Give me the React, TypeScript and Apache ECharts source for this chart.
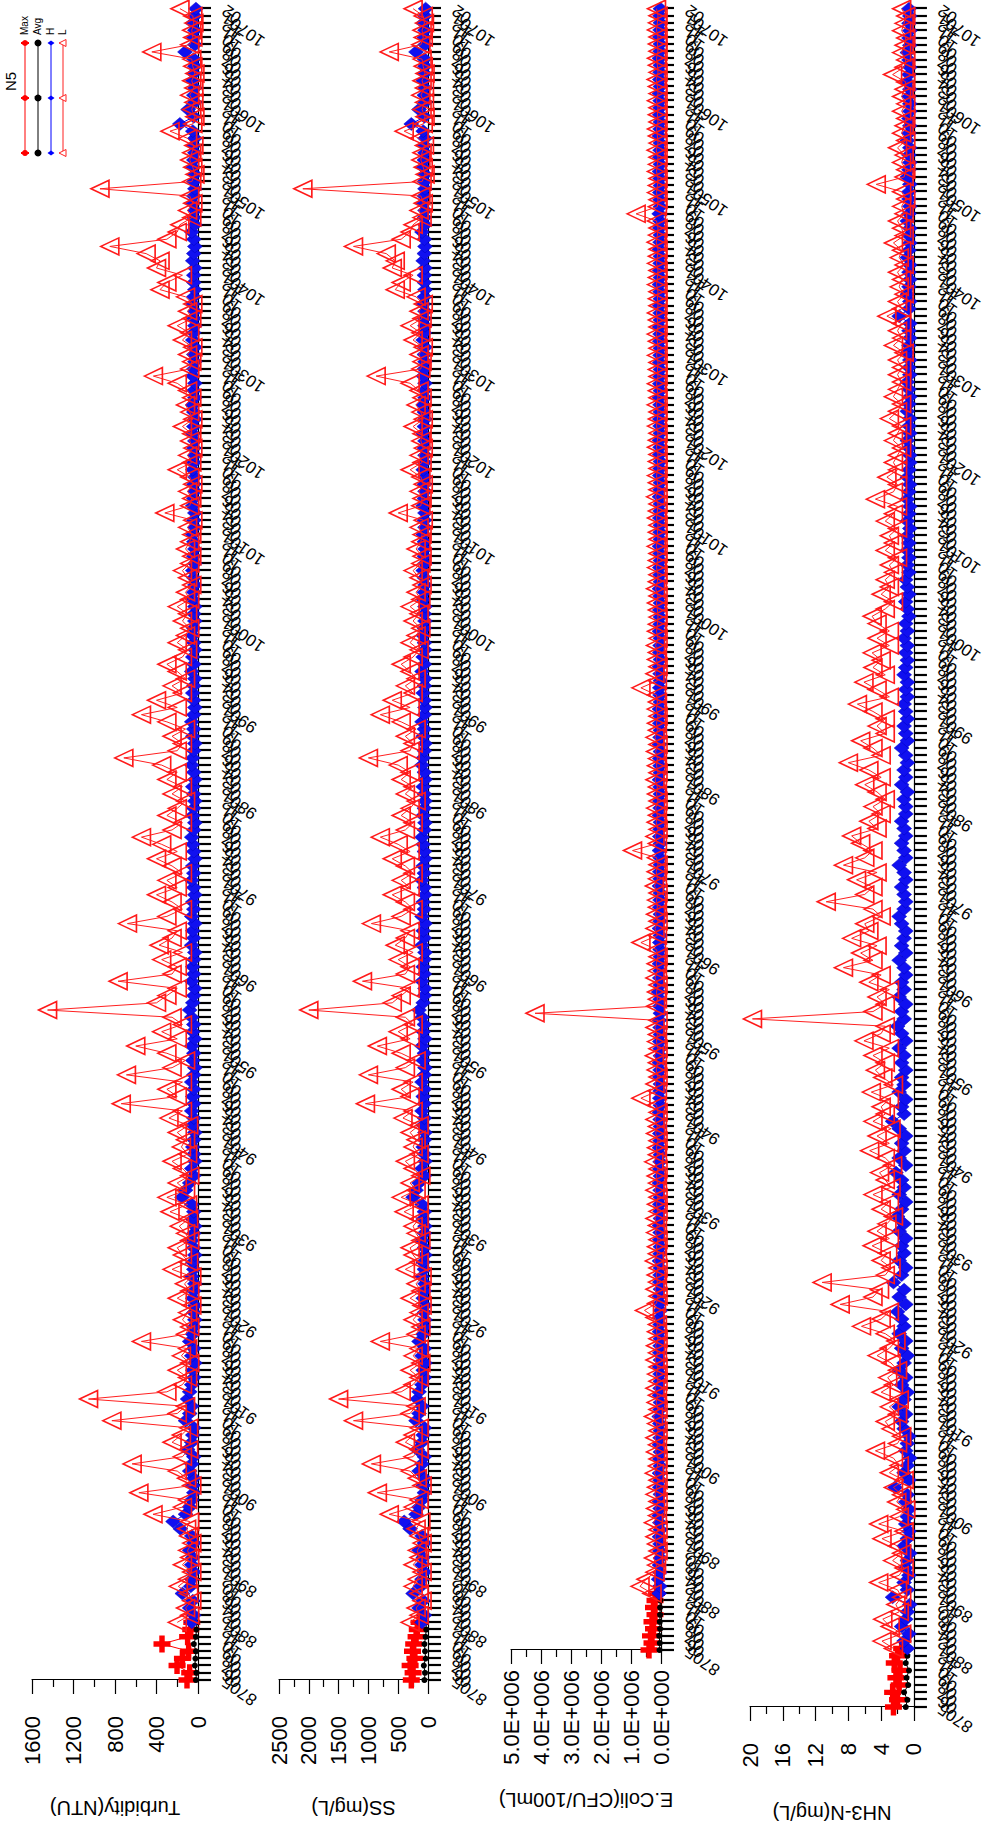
import React, { useEffect, useRef } from "react";
import * as echarts from "echarts";

const W = 1843;
const H = 986;

// sampling months per ROC year (category axis)
const yearMonths: [number, number[]][] = [
  [87, [5, 6, 7, 8, 9, 10, 11, 12]],
  [88, [1, 2, 4, 6, 8, 10, 12]],
  [89, [1, 2, 3, 4, 5, 6, 7, 8, 9, 10, 11, 12]],
  [90, [1, 2, 3, 4, 5, 6, 7, 8, 9, 10, 11, 12]],
  [91, [1, 2, 3, 4, 5, 6, 7, 8, 9, 10, 11, 12]],
  [92, [1, 2, 3, 4, 5, 6, 7, 8, 9, 10, 11, 12]],
  [93, [1, 2, 3, 4, 5, 6, 7, 8, 9, 10, 11, 12]],
  [94, [1, 2, 3, 4, 5, 6, 7, 8, 9, 10, 11, 12]],
  [95, [1, 2, 3, 4, 5, 6, 7, 8, 9, 10, 11, 12]],
  [96, [1, 2, 3, 4, 5, 6, 7, 8, 9, 10, 11, 12]],
  [97, [1, 2, 3, 4, 5, 6, 7, 8, 9, 10, 11, 12]],
  [98, [1, 2, 3, 4, 5, 6, 7, 8, 9, 10, 11, 12]],
  [99, [1, 2, 3, 4, 5, 6, 7, 8, 9, 10, 11, 12]],
  [100, [1, 2, 3, 4, 5, 6, 7, 8, 9, 10, 11, 12]],
  [101, [1, 2, 3, 4, 5, 6, 7, 8, 9, 10, 11, 12]],
  [102, [1, 2, 3, 4, 5, 6, 7, 8, 9, 10, 11, 12]],
  [103, [1, 2, 3, 4, 5, 6, 7, 8, 9, 10, 11, 12]],
  [104, [1, 2, 3, 4, 5, 6, 7, 8, 9, 10, 11, 12]],
  [105, [1, 2, 3, 4, 5, 6, 7, 8, 9, 10, 11, 12]],
  [106, [1, 2, 3, 4, 5, 6, 7, 8, 9, 10, 11, 12]],
  [107, [1, 2]],
];

// ---- Turbidity (NTU) ----
const maxTurb = [106, 80, 202, 150, 90, 347, 100, 70, 60];
const avgTurb = [20, 15, 30, 25, 20, 40, 20, 15, 10];
const hTurb = [
  60, 40, 80, 50, 150, 70, 60,
  40, 60, 50, 80, 40, 60, 170, 240, 120, 80, 60, 40,
  50, 40, 80, 60, 40, 100, 60, 50, 40, 120, 80, 60,
  100, 80, 60, 40, 50, 30, 60, 40, 80, 50, 40, 30,
  40, 30, 50, 40, 30, 60, 40, 50, 30, 40, 60, 40,
  30, 50, 40, 60, 154, 120, 80, 40, 60, 30, 40, 50,
  40, 30, 50, 40, 60, 40, 50, 40, 60, 40, 30, 50,
  40, 60, 30, 50, 40, 60, 80, 50, 40, 30, 60, 40,
  50, 40, 30, 60, 40, 50, 30, 60, 40, 50, 30, 40,
  60, 40, 50, 30, 40, 50, 60, 40, 30, 50, 40, 30,
  40, 50, 30, 40, 60, 50, 40, 30, 50, 40, 60, 40,
  30, 40, 50, 40, 30, 60, 40, 50, 30, 40, 50, 40,
  30, 40, 30, 50, 40, 30, 40, 50, 30, 40, 30, 40,
  50, 30, 40, 30, 50, 40, 30, 40, 30, 50, 40, 30,
  40, 30, 50, 40, 30, 40, 50, 30, 40, 30, 50, 40,
  30, 40, 30, 50, 40, 30, 40, 30, 50, 40, 30, 40,
  40, 30, 50, 40, 30, 40, 60, 30, 40, 30, 50, 40,
  30, 40, 30, 50, 40, 30, 40, 30, 50, 175, 40, 95,
  30, 40, 30, 50, 40, 30, 40, 125, 30, 40, 30, 50,
  30, 20,
];
const lTurb = [
  200, 80, 120, 60, 90, 190, 100,
  60, 150, 80, 100, 60, 90, 110, 80, 434, 150, 100, 570,
  60, 110, 200, 635, 150, 90, 250, 160, 90, 830, 200, 120,
  1055, 300, 150, 100, 200, 80, 160, 100, 545, 120, 80, 150,
  100, 60, 200, 80, 130, 60, 250, 90, 150, 200, 80, 120,
  180, 90, 270, 100, 300, 120, 200, 80, 150, 250, 100, 160,
  120, 200, 90, 280, 150, 740, 200, 300, 150, 690, 250, 120,
  300, 600, 200, 350, 150, 250, 1450, 400, 300, 200, 770, 250,
  200, 350, 150, 375, 250, 200, 680, 300, 150, 250, 400, 200,
  300, 150, 250, 400, 200, 350, 545, 250, 150, 300, 200, 120,
  250, 150, 300, 200, 350, 715, 200, 150, 250, 120, 300, 545,
  200, 400, 150, 250, 120, 200, 300, 150, 100, 200, 120, 80,
  150, 100, 200, 80, 120, 60, 100, 150, 80, 60, 120, 80,
  60, 100, 50, 320, 80, 60, 100, 50, 80, 200, 60, 100,
  50, 80, 60, 150, 50, 80, 120, 60, 100, 200, 430, 80,
  60, 100, 50, 150, 80, 200, 60, 100, 50, 120, 366, 300,
  150, 400, 366, 500, 850, 300, 200, 175, 60, 100, 50, 80,
  945, 60, 30, 50, 80, 60, 40, 100, 270, 50, 30, 60,
  40, 80, 40, 60, 30, 50, 60, 445, 80, 50, 60, 40,
  50, 174,
];

// ---- SS (mg/L) ----
const maxSS = [280, 250, 300, 220, 260, 240, 200, 180, 150];
const avgSS = [60, 50, 70, 40, 50, 60, 40, 30, 30];
const hSS = [
  100, 60, 150, 80, 250, 120, 100,
  60, 100, 80, 150, 60, 100, 300, 400, 200, 150, 100, 60,
  80, 60, 150, 100, 60, 180, 100, 80, 60, 200, 150, 100,
  180, 150, 100, 60, 80, 50, 100, 60, 150, 80, 60, 50,
  60, 50, 80, 60, 50, 100, 60, 80, 50, 60, 100, 60,
  50, 80, 60, 100, 250, 200, 150, 60, 100, 50, 60, 80,
  60, 50, 80, 60, 100, 60, 80, 60, 100, 60, 50, 80,
  60, 100, 50, 80, 60, 100, 150, 80, 60, 50, 100, 60,
  80, 60, 50, 100, 60, 80, 50, 100, 60, 80, 50, 60,
  100, 60, 80, 50, 60, 80, 100, 60, 50, 80, 60, 50,
  60, 80, 50, 60, 100, 80, 60, 50, 80, 60, 100, 60,
  50, 60, 80, 60, 50, 100, 60, 80, 50, 60, 80, 60,
  50, 60, 50, 80, 60, 50, 60, 80, 50, 60, 50, 60,
  80, 50, 60, 50, 80, 60, 50, 60, 50, 80, 60, 50,
  60, 50, 80, 60, 50, 60, 80, 50, 60, 50, 80, 60,
  50, 60, 50, 80, 60, 50, 60, 50, 80, 60, 50, 60,
  60, 50, 80, 60, 50, 60, 100, 50, 60, 50, 80, 60,
  50, 60, 50, 80, 60, 50, 60, 50, 80, 280, 60, 150,
  50, 60, 50, 80, 60, 50, 60, 200, 50, 60, 50, 80,
  50, 40,
];
const lSS = [
  300, 150, 200, 100, 150, 250, 180,
  100, 250, 150, 180, 100, 150, 200, 120, 650, 250, 150, 850,
  100, 180, 300, 950, 250, 150, 380, 250, 150, 1250, 300, 200,
  1500, 450, 250, 150, 300, 120, 250, 150, 800, 200, 120, 250,
  150, 100, 300, 120, 200, 100, 380, 150, 250, 300, 120, 200,
  250, 150, 400, 150, 450, 200, 300, 120, 250, 380, 150, 250,
  200, 300, 150, 420, 250, 1050, 300, 450, 250, 1000, 380, 200,
  450, 850, 300, 500, 250, 380, 2000, 600, 450, 300, 1100, 380,
  300, 500, 250, 550, 380, 300, 950, 450, 250, 380, 600, 300,
  450, 250, 380, 600, 300, 500, 800, 380, 250, 450, 300, 200,
  380, 250, 450, 300, 500, 1000, 300, 250, 380, 200, 450, 800,
  300, 600, 250, 380, 200, 300, 450, 250, 150, 300, 200, 120,
  250, 150, 300, 120, 200, 100, 150, 250, 120, 100, 200, 120,
  100, 150, 80, 500, 120, 100, 150, 80, 120, 300, 100, 150,
  80, 120, 100, 250, 80, 120, 200, 100, 150, 300, 870, 120,
  100, 150, 80, 250, 120, 300, 100, 150, 80, 200, 550, 450,
  250, 600, 550, 700, 1250, 450, 300, 250, 100, 150, 80, 120,
  2100, 100, 50, 80, 120, 100, 60, 150, 400, 80, 50, 100,
  60, 120, 60, 100, 50, 80, 100, 650, 120, 80, 100, 60,
  80, 250,
];

// ---- E.Coli (CFU/100mL) ----
const maxEC = [4.0e5, 3.0e5, 3.5e5, 2.5e5, 3.0e5, 2.0e5, 2.5e5, 2.0e5, 1.5e5];
const avgEC = [5e4, 4e4, 6e4, 3e4, 4e4, 3e4, 3e4, 2e4, 2e4];
const hEC = [
  6e4, 4e4, 8e4, 3e4, 5e4, 2e4, 4e4,
  3e4, 5e4, 2e4, 4e4, 6e4, 3e4, 5e4, 2e4, 4e4, 3e4, 5e4, 2e4,
  4e4, 2e4, 5e4, 3e4, 2e4, 4e4, 6e4, 3e4, 2e4, 5e4, 3e4, 2e4,
  3e4, 5e4, 2e4, 4e4, 3e4, 2e4, 5e4, 3e4, 4e4, 2e4, 3e4, 5e4,
  2e4, 4e4, 3e4, 2e4, 5e4, 3e4, 2e4, 4e4, 3e4, 5e4, 2e4, 3e4,
  4e4, 2e4, 3e4, 5e4, 2e4, 4e4, 3e4, 2e4, 5e4, 3e4, 4e4, 2e4,
  3e4, 5e4, 2e4, 4e4, 3e4, 2e4, 4e4, 3e4, 5e4, 2e4, 3e4, 4e4,
  2e4, 3e4, 5e4, 2e4, 4e4, 3e4, 8e4, 2e4, 4e4, 3e4, 5e4, 2e4,
  3e4, 4e4, 2e4, 5e4, 3e4, 2e4, 4e4, 3e4, 2e4, 5e4, 3e4, 4e4,
  2e4, 3e4, 5e4, 2e4, 4e4, 3e4, 2e4, 5e4, 3e4, 4e4, 2e4, 3e4,
  5e4, 2e4, 3e4, 4e4, 2e4, 5e4, 3e4, 2e4, 4e4, 3e4, 5e4, 2e4,
  3e4, 4e4, 2e4, 3e4, 5e4, 2e4, 4e4, 3e4, 2e4, 5e4, 3e4, 2e4,
  4e4, 2e4, 3e4, 5e4, 2e4, 3e4, 4e4, 2e4, 3e4, 5e4, 2e4, 3e4,
  2e4, 4e4, 3e4, 2e4, 5e4, 3e4, 2e4, 4e4, 3e4, 2e4, 4e4, 3e4,
  5e4, 2e4, 3e4, 4e4, 2e4, 3e4, 5e4, 2e4, 4e4, 3e4, 2e4, 4e4,
  3e4, 2e4, 4e4, 3e4, 5e4, 2e4, 3e4, 4e4, 2e4, 3e4, 5e4, 2e4,
  4e4, 3e4, 2e4, 5e4, 3e4, 2e4, 4e4, 3e4, 6e4, 2e4, 3e4, 4e4,
  2e4, 3e4, 5e4, 2e4, 4e4, 3e4, 2e4, 5e4, 3e4, 2e4, 4e4, 3e4,
  3e4, 5e4, 2e4, 4e4, 3e4, 2e4, 5e4, 3e4, 2e4, 4e4, 3e4, 2e4,
  3e4, 2e4,
];
const lEC = [
  3e5, 7e5, 5e5, 2e5, 1.5e5, 2.5e5, 1e5,
  1.5e5, 2e5, 1e5, 2.5e5, 1.2e5, 1.8e5, 1e5, 2e5, 1.5e5, 1e5, 2.2e5, 1.2e5,
  1e5, 1.8e5, 1.2e5, 2e5, 1e5, 1.5e5, 2.5e5, 1e5, 1.6e5, 1.2e5, 2e5, 1e5,
  1.5e5, 1e5, 2e5, 1.2e5, 1.8e5, 1e5, 1.5e5, 1.2e5, 2e5, 5.5e5, 1.5e5, 1e5,
  2e5, 1.2e5, 1.6e5, 1e5, 2.2e5, 1.2e5, 1.5e5, 1e5, 1.8e5, 1.2e5, 2e5, 1e5,
  1.5e5, 1e5, 2e5, 1.2e5, 1.6e5, 1e5, 2.4e5, 1.2e5, 1.5e5, 1e5, 1.8e5, 1.2e5,
  2e5, 1e5, 1.5e5, 6.7e5, 1.2e5, 2e5, 1e5, 1.6e5, 1.2e5, 2.2e5, 1e5, 1.5e5,
  1.2e5, 2e5, 1e5, 4.2e6, 1.8e5, 1.2e5, 1.5e5, 1e5, 2e5, 1.2e5, 1.6e5, 1e5,
  1.5e5, 6.7e5, 1.2e5, 2e5, 1e5, 1.8e5, 1.2e5, 1.5e5, 1e5, 2.2e5, 1.2e5, 1.6e5,
  1e5, 1.5e5, 9.5e5, 1.2e5, 2e5, 1e5, 1.6e5, 1.2e5, 1.8e5, 1e5, 1.5e5, 1.2e5,
  2e5, 1e5, 1.5e5, 1.2e5, 1.8e5, 1e5, 2e5, 1.2e5, 1.5e5, 1e5, 1.6e5, 1.2e5,
  1.5e5, 6.7e5, 1.2e5, 2e5, 1e5, 1.5e5, 1.2e5, 1.8e5, 1e5, 1.5e5, 1.2e5, 1e5,
  1.2e5, 1.5e5, 1e5, 1.8e5, 1.2e5, 1e5, 1.5e5, 1.2e5, 1e5, 1.6e5, 1e5, 1.2e5,
  1e5, 1.5e5, 1.2e5, 1e5, 1.8e5, 1e5, 1.2e5, 1.5e5, 1e5, 1.2e5, 1e5, 1.5e5,
  1.2e5, 1e5, 1.5e5, 1.2e5, 1e5, 1.6e5, 1e5, 1.2e5, 1.5e5, 1e5, 1.2e5, 1e5,
  1.5e5, 1e5, 1.2e5, 1.6e5, 1e5, 1.2e5, 1.5e5, 1e5, 1.2e5, 1e5, 1.5e5, 1.2e5,
  1e5, 1.5e5, 1.2e5, 1e5, 1.6e5, 1.2e5, 1e5, 1.5e5, 8.3e5, 1.2e5, 1e5, 1.5e5,
  1.2e5, 1e5, 1.5e5, 1.2e5, 1e5, 1.6e5, 1e5, 1.2e5, 1.5e5, 1e5, 1.2e5, 1e5,
  1.5e5, 1e5, 1.2e5, 1.6e5, 1e5, 1.2e5, 1.5e5, 1e5, 1.2e5, 1e5, 1.5e5, 1.2e5,
  1e5, 1.5e5,
];

// ---- NH3-N (mg/L) ----
const maxNH = [2.5, 2.0, 2.6, 1.8, 2.2, 1.7, 2.4, 2.0, 1.5];
const avgNH = [1.0, 0.8, 1.2, 0.7, 0.9, 0.6, 1.0, 0.8, 0.5];
const hNH = [
  0.8, 1.2, 0.6, 1.5, 1.0, 0.8, 0.5,
  2.6, 0.8, 1.2, 0.6, 1.0, 0.8, 0.5, 1.2, 0.8, 0.6, 1.0, 0.8,
  0.6, 1.0, 0.8, 2.3, 0.6, 1.2, 0.8, 0.5, 1.0, 0.8, 0.6, 1.2,
  1.5, 1.0, 1.8, 1.2, 0.8, 1.5, 1.0, 1.8, 1.2, 0.8, 1.5, 1.0,
  1.8, 1.2, 1.5, 2.0, 1.0, 1.8, 1.2, 2.5, 1.5, 1.0, 1.8, 1.2,
  1.5, 1.0, 1.8, 1.2, 2.0, 1.5, 1.0, 1.8, 1.2, 1.5, 2.2, 1.0,
  1.8, 1.2, 1.5, 1.0, 1.8, 2.6, 1.2, 1.5, 1.0, 1.8, 1.2, 1.5,
  1.0, 1.5, 1.2, 1.8, 1.0, 1.5, 2.0, 1.2, 1.5, 1.0, 1.8, 1.2,
  1.5, 1.0, 1.2, 1.8, 1.0, 1.5, 1.2, 1.0, 1.5, 1.8, 1.2, 1.0,
  1.2, 1.5, 1.0, 1.2, 1.8, 1.0, 1.2, 1.5, 1.0, 1.2, 1.5, 1.0,
  1.0, 1.2, 0.8, 1.5, 1.0, 1.2, 0.8, 1.0, 1.5, 0.8, 1.0, 1.2,
  0.8, 1.0, 1.2, 0.8, 1.0, 0.8, 1.2, 1.0, 0.8, 1.0, 0.8, 1.2,
  0.8, 1.0, 0.6, 0.8, 1.0, 0.6, 0.8, 1.0, 0.6, 0.8, 0.6, 0.8,
  0.6, 0.8, 0.5, 0.8, 0.6, 0.5, 0.8, 0.6, 0.5, 0.8, 0.6, 0.5,
  0.5, 0.6, 0.8, 0.5, 0.6, 0.5, 0.8, 0.6, 0.5, 0.6, 0.8, 0.5,
  0.6, 0.5, 0.8, 0.6, 0.5, 0.6, 0.5, 1.8, 0.6, 0.5, 0.8, 0.6,
  0.5, 0.6, 0.5, 0.8, 0.6, 0.5, 0.6, 0.5, 0.8, 0.6, 0.5, 0.6,
  0.6, 0.5, 0.8, 0.6, 0.5, 0.6, 0.5, 0.8, 0.6, 0.5, 0.6, 0.5,
  0.5, 0.6, 0.5, 0.8, 0.6, 0.5, 0.6, 0.8, 0.5, 0.6, 0.5, 0.6,
  0.5, 0.6,
];
const lNH = [
  2.5, 3.9, 1.5, 2.9, 3.8, 1.8, 2.2,
  1.5, 2.0, 4.3, 1.8, 1.2, 2.6, 1.5, 2.0, 3.9, 1.2, 4.3, 1.8,
  1.0, 2.1, 1.5, 2.5, 1.2, 3.0, 1.8, 2.5, 4.7, 2.0, 1.5, 2.8,
  3.5, 2.0, 3.0, 1.8, 4.0, 2.5, 3.2, 2.0, 2.8, 4.5, 3.0, 2.2,
  3.5, 6.4, 4.0, 3.0, 9.0, 5.0, 4.2, 11.2, 3.5, 2.8, 4.0, 3.2,
  5.1, 3.0, 4.5, 3.3, 2.5, 4.0, 3.0, 5.0, 2.8, 3.5, 4.2, 2.6,
  3.5, 5.4, 3.0, 4.5, 2.8, 5.0, 3.5, 4.0, 3.0, 5.2, 2.5, 3.8,
  4.7, 3.5, 5.0, 3.0, 6.1, 4.0, 3.5, 19.7, 5.0, 3.5, 4.5, 3.0,
  5.5, 4.0, 8.6, 5.0, 6.5, 4.5, 7.6, 5.5, 6.0, 4.0, 5.0, 10.7,
  6.0, 5.0, 7.0, 4.5, 8.6, 6.0, 5.0, 6.5, 7.6, 4.5, 5.5, 4.0,
  5.0, 3.5, 4.5, 6.0, 4.0, 5.5, 8.0, 4.0, 5.0, 6.5, 3.5, 4.5,
  3.5, 5.0, 6.9, 3.0, 4.5, 6.1, 3.5, 5.0, 4.0, 5.1, 3.0, 4.5,
  3.0, 4.5, 5.1, 3.5, 2.5, 4.0, 3.0, 3.5, 2.5, 3.0, 2.0, 3.5,
  2.5, 3.0, 2.0, 3.5, 2.5, 2.0, 4.7, 2.5, 2.0, 3.3, 2.0, 2.5,
  2.0, 1.5, 2.5, 2.0, 1.5, 3.0, 2.0, 1.5, 2.5, 2.0, 1.5, 2.0,
  1.5, 2.0, 1.2, 2.5, 1.5, 2.0, 1.5, 3.3, 1.5, 2.0, 1.2, 1.8,
  1.5, 2.0, 1.2, 1.8, 1.5, 2.5, 1.2, 1.5, 2.0, 1.2, 1.5, 1.0,
  1.5, 4.6, 1.2, 1.0, 1.5, 1.2, 2.0, 1.0, 1.5, 1.2, 1.0, 1.5,
  1.0, 1.5, 1.2, 1.0, 2.6, 1.2, 1.0, 1.5, 1.2, 1.0, 1.5, 1.2,
  1.0, 1.5,
];

const MA_START = 0; // first sample index of Max/Avg
const HL_START = 8; // first sample index of H/L

const FONT = "Liberation Sans, Arial, sans-serif";
const PLUS = "path://M3.4,0H6.6V3.4H10V6.6H6.6V10H3.4V6.6H0V3.4H3.4Z";

function pad(m: number) {
  return m < 10 ? "0" + m : String(m);
}

export default function App() {
  const ref = useRef<HTMLDivElement>(null);
  useEffect(() => {
    if (!ref.current) return;
    const chart = echarts.init(ref.current, undefined, { renderer: "svg" });

    const cats: string[] = [];
    const yearStart = new Set<number>();
    yearMonths.forEach(([y, ms]) => {
      ms.forEach((m, k) => {
        if (k === 0) yearStart.add(cats.length);
        cats.push(`${y}${pad(m)}`);
      });
    });
    const N = cats.length;

    const place = (arr: number[], start: number) => {
      const out: (number | null)[] = new Array(N).fill(null);
      arr.forEach((v, i) => {
        if (start + i < N) out[start + i] = v;
      });
      return out;
    };

    const panels = [
      { name: "Turbidity(NTU)", max: 1600, interval: 400, left: 163, top: 32, height: 166, lm: 36, gap: 118, fmt: (v: number) => String(v), data: [maxTurb, avgTurb, hTurb, lTurb] },
      { name: "SS(mg/L)", max: 2500, interval: 500, left: 163, top: 279, height: 149, lm: 36, gap: 118, fmt: (v: number) => String(v), data: [maxSS, avgSS, hSS, lSS] },
      {
        name: "E.Coli(CFU/100mL)", max: 5000000, interval: 1000000, left: 193, top: 511, height: 150, lm: 20, gap: 140,
        fmt: (v: number) => (v === 0 ? "0.0E+000" : (v / 1e6).toFixed(1) + "E+006"),
        data: [maxEC, avgEC, hEC, lEC],
      },
      { name: "NH3-N(mg/L)", max: 20, interval: 4, left: 136, top: 750, height: 164, lm: 36, gap: 96, fmt: (v: number) => String(v), data: [maxNH, avgNH, hNH, lNH] },
    ];

    const grid: any[] = [];
    const xAxis: any[] = [];
    const yAxis: any[] = [];
    const series: any[] = [];

    panels.forEach((p, pi) => {
      grid.push({ left: p.left, top: p.top, height: p.height, right: 5, containLabel: false });
      xAxis.push({
        type: "category",
        gridIndex: pi,
        data: cats,
        boundaryGap: false,
        axisLine: { show: true, lineStyle: { color: "#000", width: 1.2 } },
        axisTick: { show: true, interval: 0, length: 13, lineStyle: { color: "#000", width: 2.2 } },
        axisLabel: {
          interval: 0,
          rotate: 55,
          margin: 26,
          fontSize: 17,
          color: "#000",
          fontFamily: FONT,
          formatter: (v: string, idx: number) => (yearStart.has(idx) ? v : v.slice(-2)),
        },
        splitLine: { show: false },
      });
      yAxis.push({
        type: "value",
        gridIndex: pi,
        min: 0,
        max: p.max,
        interval: p.interval,
        name: p.name,
        nameLocation: "middle",
        nameGap: p.gap,
        nameTextStyle: { fontSize: 20, color: "#000", fontFamily: FONT },
        axisLine: { show: true, lineStyle: { color: "#000", width: 1.2 } },
        axisTick: { show: true, length: 14, lineStyle: { color: "#000", width: 1.2 } },
        minorTick: { show: true, splitNumber: 2, length: 7, lineStyle: { color: "#000", width: 1.2 } },
        axisLabel: { fontSize: 22, color: "#000", margin: p.lm, fontFamily: FONT, formatter: p.fmt },
        splitLine: { show: false },
      });
      const [mx, av, hh, ll] = p.data;
      series.push({
        name: "Max",
        type: "line",
        xAxisIndex: pi,
        yAxisIndex: pi,
        data: place(mx, MA_START),
        symbol: PLUS,
        symbolSize: 17,
        itemStyle: { color: "#ff0000" },
        lineStyle: { color: "#ff0000", width: 1 },
        z: 3,
      });
      series.push({
        name: "Avg",
        type: "line",
        xAxisIndex: pi,
        yAxisIndex: pi,
        data: place(av, MA_START),
        symbol: "circle",
        symbolSize: 6,
        itemStyle: { color: "#000" },
        lineStyle: { color: "#000", width: 1 },
        z: 4,
      });
      series.push({
        name: "H",
        type: "line",
        xAxisIndex: pi,
        yAxisIndex: pi,
        data: place(hh, HL_START),
        symbol: "diamond",
        symbolSize: [13, 15],
        itemStyle: { color: "#1010f0", borderColor: "#0000c0", borderWidth: 0.5 },
        lineStyle: { color: "#0000ff", width: 1 },
        z: 5,
      });
      series.push({
        name: "L",
        type: "line",
        xAxisIndex: pi,
        yAxisIndex: pi,
        data: place(ll, HL_START),
        symbol: "triangle",
        symbolSize: [17, 18],
        itemStyle: { color: "rgba(255,255,255,0)", borderColor: "#ff1a1a", borderWidth: 1.6 },
        lineStyle: { color: "#ff2020", width: 1 },
        z: 6,
      });
    });

    // legend (original orientation: top-right corner)
    const lx0 = 1690, lx1 = 1800, lxm = 1745;
    const rows = [
      { label: "Max", y: 25, color: "#ff0000", kind: "plus" },
      { label: "Avg", y: 38, color: "#000000", kind: "circle" },
      { label: "H", y: 51, color: "#0000ff", kind: "diamond" },
      { label: "L", y: 63, color: "#ff2020", kind: "triangle" },
    ];
    const graphic: any[] = [
      { type: "text", x: 1752, y: 3, style: { text: "N5", font: `15px ${FONT}`, fill: "#000" } },
    ];
    rows.forEach((r) => {
      graphic.push({ type: "line", shape: { x1: lx0, y1: r.y, x2: lx1, y2: r.y }, style: { stroke: r.color, lineWidth: 1 } });
      [lx0, lxm, lx1].forEach((x) => {
        if (r.kind === "circle") {
          graphic.push({ type: "circle", shape: { cx: x, cy: r.y, r: 3.5 }, style: { fill: r.color } });
        } else if (r.kind === "plus") {
          graphic.push({ type: "circle", shape: { cx: x, cy: r.y, r: 3 }, style: { fill: r.color } });
          graphic.push({ type: "line", shape: { x1: x, y1: r.y - 4, x2: x, y2: r.y + 4 }, style: { stroke: r.color, lineWidth: 2 } });
        } else if (r.kind === "diamond") {
          graphic.push({ type: "polygon", shape: { points: [[x, r.y - 3.5], [x + 2.5, r.y], [x, r.y + 3.5], [x - 2.5, r.y]] }, style: { fill: r.color } });
        } else {
          graphic.push({ type: "polygon", shape: { points: [[x, r.y - 4], [x + 3.5, r.y + 3], [x - 3.5, r.y + 3]] }, style: { fill: "#fff", stroke: r.color, lineWidth: 1 } });
        }
      });
      graphic.push({ type: "text", x: 1808, y: r.y - 6, style: { text: r.label, font: `10px ${FONT}`, fill: "#000" } });
    });

    chart.setOption({
      animation: false,
      backgroundColor: "#ffffff",
      textStyle: { fontFamily: FONT },
      grid,
      xAxis,
      yAxis,
      series,
      graphic,
    });
    return () => chart.dispose();
  }, []);

  return (
    <div style={{ position: "fixed", left: 0, top: 0, width: 986, height: 1843, overflow: "hidden", background: "#fff" }}>
      <div
        ref={ref}
        style={{
          position: "absolute",
          left: 0,
          top: 0,
          width: W,
          height: H,
          transformOrigin: "0 0",
          transform: `translateY(${W}px) rotate(-90deg)`,
        }}
      />
    </div>
  );
}
